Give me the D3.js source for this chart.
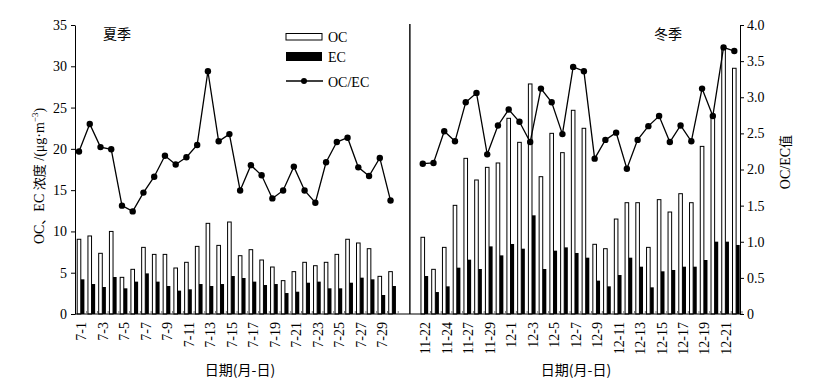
<!DOCTYPE html>
<html>
<head>
<meta charset="utf-8">
<script src="https://cdn.jsdelivr.net/npm/d3@7/dist/d3.min.js"></script>
<style>
  body { margin: 0; background: #fff; }
  text { font-family: "Liberation Serif", "Times New Roman", "Noto Sans CJK SC", serif; fill: #000; }
  .cjk { font-family: "Noto Sans CJK SC", "Liberation Serif", sans-serif; }
</style>
</head>
<body>
<div id="chart"></div>
<script>
// summer: 7-1 .. 7-30, winter: 11-22 .. 12-22
var summerDates = ["7-1","7-2","7-3","7-4","7-5","7-6","7-7","7-8","7-9","7-10","7-11","7-12","7-13","7-14","7-15",
  "7-16","7-17","7-18","7-19","7-20","7-21","7-22","7-23","7-24","7-25","7-26","7-27","7-28","7-29","7-30"];
var winterDates = ["11-22","11-23","11-24","11-25","11-27","11-28","11-29","11-30","12-1","12-2","12-3","12-4","12-5","12-6","12-7",
  "12-8","12-9","12-10","12-11","12-12","12-13","12-14","12-15","12-16","12-17","12-18","12-19","12-20","12-21","12-22"];

var summerOC = [9.05,9.45,7.35,10.0,4.44,5.41,8.07,7.22,7.22,5.57,6.26,8.19,10.98,8.31,11.14,
  7.06,7.79,6.54,5.69,4.04,5.13,6.26,5.85,6.26,7.22,9.05,8.6,7.91,4.56,5.13];
var summerEC = [4.2,3.63,3.27,4.48,3.11,3.92,4.92,3.92,3.39,2.83,2.99,3.63,3.39,3.63,4.6,
  4.36,3.92,3.51,3.63,2.54,2.7,3.79,3.92,3.11,3.11,3.79,4.4,4.2,2.3,3.39];
var summerRatio = [2.25,2.63,2.31,2.28,1.50,1.42,1.68,1.90,2.19,2.07,2.17,2.34,3.36,2.39,2.49,
  1.71,2.06,1.92,1.60,1.71,2.04,1.71,1.54,2.10,2.38,2.44,2.03,1.91,2.16,1.57];

var winterOC = [9.29,5.41,8.07,13.16,18.85,16.23,17.76,18.29,23.7,20.79,27.86,16.63,21.88,19.54,24.67,
  22.49,8.44,7.91,11.5,13.48,13.48,8.07,13.85,12.35,14.57,13.48,20.3,24.0,32.2,29.76];
var winterEC = [4.6,2.66,3.35,5.61,6.58,5.45,8.19,7.1,8.48,7.91,11.95,5.45,7.67,8.07,7.39,
  6.82,4.04,3.35,4.72,6.82,5.73,3.23,5.17,5.33,5.73,5.73,6.54,8.76,8.76,8.36];
var winterRatio = [2.08,2.09,2.53,2.39,2.93,3.06,2.21,2.61,2.83,2.66,2.38,3.12,2.93,2.49,3.42,
  3.36,2.15,2.41,2.51,2.01,2.41,2.60,2.74,2.38,2.61,2.39,3.12,2.74,3.69,3.64];

var leftTicks = [0,5,10,15,20,25,30,35];
var rightTicks = [0,0.5,1,1.5,2,2.5,3,3.5,4];

var width = 814, height = 389,
    padL = 75, padR = 740, padT = 25, padB = 314;   // plot edges (window.top is taken, so no "top")

var winterStart = 32;    // slot of the first winter day
var gapSlot = 30.8;      // where the divider sits
var barW = 3.6;

// build one row per day with its slot on a shared x scale
var rows = summerDates.map(function(d, i) {
  return {date: d, slot: i, oc: summerOC[i], ec: summerEC[i], r: summerRatio[i], season: "s"};
}).concat(winterDates.map(function(d, i) {
  return {date: d, slot: i + winterStart, oc: winterOC[i], ec: winterEC[i], r: winterRatio[i], season: "w"};
}));

var svg = d3.select("#chart").append("svg")
    .attr("width", width)
    .attr("height", height);

var x = d3.scaleLinear().domain([0, 61]).range([79, 734.3]);
var yL = d3.scaleLinear().domain([0, 35]).range([padB, padT]);
var yR = d3.scaleLinear().domain([0, 4]).range([padB, padT]);

// bars
svg.append("g").selectAll("rect.oc")
    .data(rows).enter().append("rect")
    .attr("class", "oc")
    .attr("x", function(d) { return x(d.slot) - barW / 2; })
    .attr("y", function(d) { return yL(d.oc); })
    .attr("width", barW)
    .attr("height", function(d) { return padB - yL(d.oc); })
    .attr("fill", "#fff")
    .attr("stroke", "#000")
    .attr("stroke-width", 1);

svg.append("g").selectAll("rect.ec")
    .data(rows).enter().append("rect")
    .attr("class", "ec")
    .attr("x", function(d) { return x(d.slot) + barW / 2; })
    .attr("y", function(d) { return yL(d.ec); })
    .attr("width", barW)
    .attr("height", function(d) { return padB - yL(d.ec); })
    .attr("fill", "#000");

// ratio lines, one per season
var line = d3.line()
    .x(function(d) { return x(d.slot); })
    .y(function(d) { return yR(d.r); });

["s", "w"].forEach(function(s) {
  var part = rows.filter(function(d) { return d.season == s; });
  svg.append("path")
      .datum(part)
      .attr("d", line)
      .attr("fill", "none")
      .attr("stroke", "#000")
      .attr("stroke-width", 1.3);
  svg.append("g").selectAll("circle")
      .data(part).enter().append("circle")
      .attr("cx", function(d) { return x(d.slot); })
      .attr("cy", function(d) { return yR(d.r); })
      .attr("r", 3.2)
      .attr("fill", "#000");
});

// left axis
var yAxisL = d3.axisLeft(yL).tickValues(leftTicks).tickSize(4).tickSizeOuter(0);
svg.append("g")
    .attr("transform", "translate(" + padL + ",0)")
    .call(yAxisL)
    .call(function(g) {
      g.selectAll("text").attr("font-size", 14).attr("font-family", "Liberation Serif").attr("dx", "-1");
    });

// right axis
var yAxisR = d3.axisRight(yR).tickValues(rightTicks).tickSize(4).tickSizeOuter(0)
    .tickFormat(function(d) { return d === 0 ? "0" : d3.format(".1f")(d); });
svg.append("g")
    .attr("transform", "translate(" + padR + ",0)")
    .call(yAxisR)
    .call(function(g) {
      g.selectAll("text").attr("font-size", 14).attr("font-family", "Liberation Serif");
    });

// bottom line + inner ticks between groups
svg.append("line")
    .attr("x1", padL).attr("x2", padR)
    .attr("y1", padB).attr("y2", padB)
    .attr("stroke", "#000").attr("stroke-width", 1.2);

var tickAxis = d3.axisBottom(x)
    .tickValues(rows.map(function(d) { return d.slot + 0.67; }))
    .tickSize(-3).tickFormat("");
svg.append("g")
    .attr("transform", "translate(0," + padB + ")")
    .call(tickAxis)
    .call(function(g) { g.select(".domain").remove(); g.selectAll("line").attr("stroke", "#777"); });

// date labels, every other day, rotated
var labelRows = rows.filter(function(d) {
  return (d.season == "s" ? d.slot : d.slot - winterStart) % 2 == 0;
});
var dateBySlot = {};
rows.forEach(function(d) { dateBySlot[d.slot] = d.date; });

var xAxis = d3.axisBottom(x)
    .tickValues(labelRows.map(function(d) { return d.slot; }))
    .tickSize(0)
    .tickFormat(function(s) { return dateBySlot[s]; });
svg.append("g")
    .attr("class", "xaxis")
    .attr("transform", "translate(2," + padB + ")")
    .call(xAxis)
    .call(function(g) { g.select(".domain").remove(); });

svg.selectAll(".xaxis text")
    .attr("font-size", 14)
    .attr("font-family", "Liberation Serif")
    .attr("text-anchor", "end")
    .attr("transform", "translate(0,8)rotate(-90)")
    .attr("x", 0)
    .attr("y", 0)
    .attr("dy", "0.35em");

// season divider
svg.append("line")
    .attr("x1", x(gapSlot)).attr("x2", x(gapSlot))
    .attr("y1", padT - 1).attr("y2", padB)
    .attr("stroke", "#000").attr("stroke-width", 1.4);

// season names
svg.append("text").attr("class", "cjk")
    .attr("x", 117).attr("y", 39)
    .attr("text-anchor", "middle").attr("font-size", 14)
    .text("夏季");
svg.append("text").attr("class", "cjk")
    .attr("x", 668).attr("y", 39)
    .attr("text-anchor", "middle").attr("font-size", 14)
    .text("冬季");

// axis titles
var lt = svg.append("text")
    .attr("transform", "translate(44,176)rotate(-90)")
    .attr("text-anchor", "middle")
    .attr("font-size", 14);
lt.append("tspan").text("OC");
lt.append("tspan").attr("class", "cjk").attr("font-size", 13).text("、");
lt.append("tspan").text("EC ");
lt.append("tspan").attr("class", "cjk").attr("font-size", 13).text("浓度");
lt.append("tspan").text(" /(μg·m");
lt.append("tspan").attr("font-size", 9).attr("dy", -6).text("−3");
lt.append("tspan").attr("dy", 6).text(")");

var rt = svg.append("text")
    .attr("transform", "translate(790,162)rotate(-90)")
    .attr("text-anchor", "middle")
    .attr("font-size", 14);
rt.append("tspan").text("OC/EC");
rt.append("tspan").attr("class", "cjk").attr("font-size", 13).text("值");

[240, 576].forEach(function(cx) {
  svg.append("text").attr("class", "cjk")
      .attr("x", cx).attr("y", 375)
      .attr("text-anchor", "middle").attr("font-size", 14)
      .text("日期(月-日)");
});

// legend
var lg = svg.append("g").attr("transform", "translate(286,0)");
lg.append("rect").attr("x", 0).attr("y", 33.5).attr("width", 36).attr("height", 6.5)
    .attr("fill", "#fff").attr("stroke", "#000").attr("stroke-width", 1);
lg.append("rect").attr("x", 0).attr("y", 52).attr("width", 36).attr("height", 9)
    .attr("fill", "#000");
lg.append("line").attr("x1", 0).attr("x2", 37).attr("y1", 81).attr("y2", 81)
    .attr("stroke", "#000").attr("stroke-width", 1.3);
lg.append("circle").attr("cx", 18).attr("cy", 81).attr("r", 3).attr("fill", "#000");
[["OC", 37], ["EC", 57], ["OC/EC", 82]].forEach(function(t) {
  lg.append("text").attr("x", 42).attr("y", t[1]).attr("dy", "0.35em")
      .attr("font-size", 14).text(t[0]);
});
</script>
</body>
</html>
